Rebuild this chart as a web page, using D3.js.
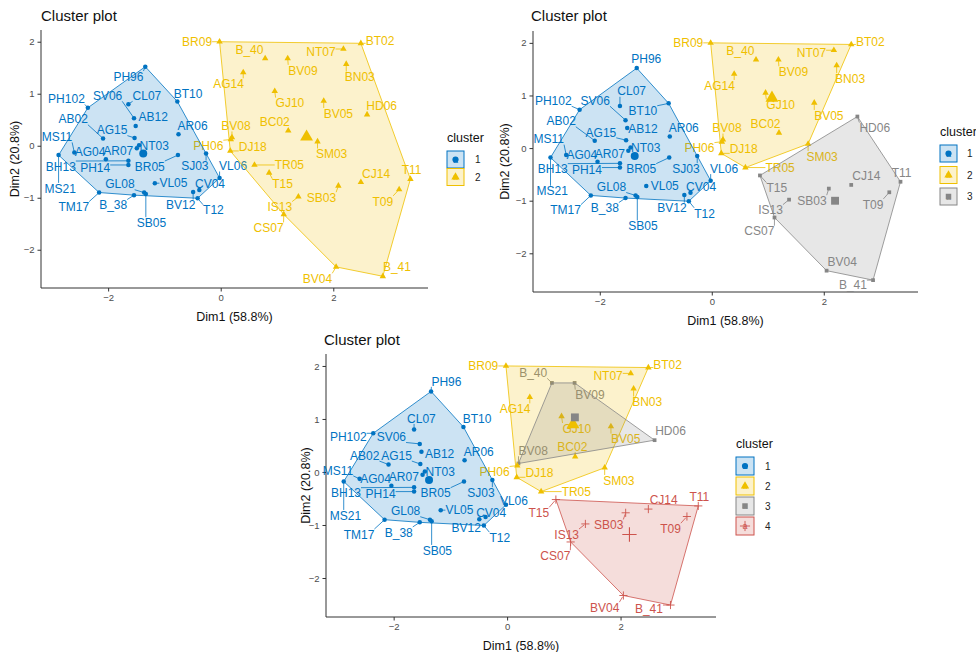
<!DOCTYPE html>
<html><head><meta charset="utf-8">
<script src="https://cdn.jsdelivr.net/npm/d3@7"></script>
<style>body{margin:0;background:#fff;} svg{display:block;font-family:"Liberation Sans",Arial,sans-serif;}</style>
</head><body><svg id="c" width="976" height="652"></svg>
<script>
// ---- data ----
const names = ["PH96","PH102","CL07","SV06","AB12","AB02","AG15","NT03","AR07","MS11","MS21","BH13","AG04","PH14","BR05","SJ03","VL06","AR06","BT10","VL05","GL08","SB05","B_38","TM17","T12","BV12","CV04",
"BR09","B_40","BV09","NT07","BT02","AG14","BN03","GJ10","BV05","HD06","BC02","SM03","BV08","PH06","DJ18","TR05","T15","IS13","CS07","SB03","CJ14","T09","T11","BV04","B_41"];
const dim1 = [-1.34,-2.36,-1.64,-1.54,-1.51,-2.09,-1.53,-1.45,-1.49,-2.60,-2.88,-1.64,-2.04,-1.64,-0.76,-0.26,-0.02,-0.75,-0.77,-1.17,-1.36,-1.33,-1.54,-2.16,-0.41,-0.49,-0.38,
-0.02,0.79,1.19,2.18,2.49,0.40,2.23,0.96,1.83,2.60,1.20,1.72,0.20,0.18,0.17,0.60,0.86,1.38,1.12,2.09,2.49,3.17,3.37,2.05,2.88];
const dim2 = [1.52,0.73,0.80,0.53,0.38,0.14,0.15,0.01,-0.05,-0.13,-0.18,-0.29,-0.26,-0.37,-0.18,-0.15,-0.62,0.22,0.85,-0.72,-0.90,-0.93,-0.95,-0.90,-1.01,-0.89,-0.85,
2.00,1.68,1.68,1.86,1.97,1.41,1.57,1.05,0.86,0.60,0.29,0.08,0.16,0.12,-0.10,-0.37,-0.52,-0.98,-1.32,-0.77,-0.70,-0.84,-0.64,-2.33,-2.51];
// cluster memberships for k = 2, 3, 4
const clusterK2 = [1,1,1,1,1,1,1,1,1,1,1,1,1,1,1,1,1,1,1,1,1,1,1,1,1,1,1, 2,2,2,2,2,2,2,2,2,2,2,2,2,2,2,2,2,2,2,2,2,2,2,2,2];
const clusterK3 = [1,1,1,1,1,1,1,1,1,1,1,1,1,1,1,1,1,1,1,1,1,1,1,1,1,1,1, 2,2,2,2,2,2,2,2,2,3,2,2,2,2,2,2,3,3,3,3,3,3,3,3,3];
const clusterK4 = [1,1,1,1,1,1,1,1,1,1,1,1,1,1,1,1,1,1,1,1,1,1,1,1,1,1,1, 2,3,3,2,2,2,2,2,2,3,2,2,3,2,2,2,4,4,4,4,4,4,4,4,4];
// repelled label positions (Dim1, Dim2)
const labelDim1 = [-1.64,-2.74,-1.31,-2.01,-1.20,-2.62,-1.93,-1.18,-1.82,-2.91,-2.85,-2.84,-2.32,-2.23,-1.26,-0.46,0.22,-0.50,-0.58,-0.84,-1.79,-1.23,-1.91,-2.61,-0.13,-0.71,-0.19,
-0.42,0.51,1.46,1.78,2.83,0.14,2.47,1.23,2.09,2.86,0.96,1.97,0.27,-0.22,0.57,1.22,1.10,1.05,0.85,1.79,2.76,2.88,3.39,1.72,3.13];
const labelDim2 = [1.33,0.90,0.96,0.96,0.55,0.51,0.30,0.00,-0.10,0.17,-0.82,-0.40,-0.12,-0.42,-0.40,-0.39,-0.39,0.38,1.00,-0.72,-0.74,-1.48,-1.14,-1.18,-1.24,-1.14,-0.74,
2.00,1.84,1.45,1.81,2.02,1.19,1.32,0.82,0.62,0.76,0.46,-0.16,0.38,0.00,-0.02,-0.37,-0.74,-1.18,-1.58,-1.00,-0.53,-1.07,-0.47,-2.56,-2.33];
// per-plot label adjustments [name, Dim1, Dim2]
const labelFixK3 = [["PH96",-1.17,1.70],["CL07",-1.43,1.08],["BT10",-1.23,0.70],["PH102",-2.83,0.90],["SV06",-2.08,0.90],
["AB12",-1.23,0.36],["AG15",-1.98,0.30],["AB02",-2.69,0.51],["HD06",2.91,0.38],["BV04",2.33,-2.16],["B_41",2.52,-2.60],["T15",1.16,-0.76]];
const labelFixK4 = [["PH96",-1.07,1.71],["CL07",-1.51,1.01],["BT10",-0.53,1.01],["PH102",-2.80,0.66],["SV06",-2.04,0.66],
["AB02",-2.51,0.31],["AG15",-1.95,0.31],["AB12",-1.19,0.34],["MS11",-2.98,0.03],["VL06",0.12,-0.54],["BV12",-0.72,-1.06],
["CV04",-0.28,-0.77],["B_40",0.46,1.87],["BV08",0.46,0.40],["T15",0.56,-0.77],["B_41",2.50,-2.59],["HD06",2.88,0.78],["BC02",1.15,0.48]];
const xTicks = [-2,0,2];
const yTicks = [-2,-1,0,1,2];
const clusterNames = ["1","2","3","4"];
const palette = ["#0073C2","#EFC000","#868686","#CD534C"];
const shapes = ["circle","triangle","square","plus"];

// ---- drawing ----
const svg = d3.select("#c");
const pad = e => { const w = e[1]-e[0]; return [e[0]-0.05*w, e[1]+0.05*w]; };
const xDom = pad(d3.extent(dim1)), yDom = pad(d3.extent(dim2));

function symPath(type, size){
  if(type==="plus"){ const r=Math.sqrt(size)*0.8; return `M${-r},0H${r}M0,${-r}V${r}`; }
  const t={circle:d3.symbolCircle,triangle:d3.symbolTriangle,square:d3.symbolSquare}[type];
  return d3.symbol().type(t).size(size)();
}
function drawSym(g, type, color, size, x, y){
  const p = g.append("path").attr("d", symPath(type,size)).attr("transform",`translate(${x},${y})`);
  if(type==="plus") p.attr("fill","none").attr("stroke",color).attr("stroke-width",0.9);
  else p.attr("fill",color);
  return p;
}
const ptSize = {circle:16, triangle:18, square:14, plus:26};
const cenSize = {circle:50, triangle:72, square:62, plus:80};

const panels = [
  {cl: clusterK2, fix: [], box:{l:41,r:428,t:30,b:288}, titleX:41, titleY:21, ytx:15,
   leg:{x:447,y:138,step:17.5,size:17,lx:475}},
  {cl: clusterK3, fix: labelFixK3, box:{l:533,r:918,t:31,b:292}, titleX:531, titleY:21, ytx:505,
   leg:{x:940,y:132,step:21.5,size:17,lx:967}},
  {cl: clusterK4, fix: labelFixK4, box:{l:326,r:716,t:354,b:617}, titleX:324, titleY:345, ytx:306,
   leg:{x:736,y:444,step:20,size:18,lx:765}}
];

panels.forEach(P => {
  const g = svg.append("g");
  const x = d3.scaleLinear().domain(xDom).range([P.box.l, P.box.r]);
  const y = d3.scaleLinear().domain(yDom).range([P.box.b, P.box.t]);
  const nCl = d3.max(P.cl);
  // axes
  const ax = g.append("g").attr("transform",`translate(0,${P.box.b})`)
    .call(d3.axisBottom(x).tickValues(xTicks).tickSize(3.5).tickPadding(3).tickFormat(d3.format("d")));
  const ay = g.append("g").attr("transform",`translate(${P.box.l},0)`)
    .call(d3.axisLeft(y).tickValues(yTicks).tickSize(3.5).tickPadding(3).tickFormat(d3.format("d")));
  [ax,ay].forEach(a=>{
    a.select(".domain").attr("stroke","#333").attr("stroke-width",1).attr("d", a===ax ? `M${P.box.l},0H${P.box.r}` : `M0,${P.box.t}V${P.box.b}`);
    a.selectAll(".tick line").attr("stroke","#333");
    a.selectAll(".tick text").attr("fill","#4D4D4D").style("font-size","9.5px").style("font-family","'Liberation Sans',Arial,sans-serif");
  });
  // points
  const pts = g.append("g");
  names.forEach((n,i)=>{
    const k = P.cl[i]-1;
    drawSym(pts, shapes[k], palette[k], ptSize[shapes[k]], x(dim1[i]), y(dim2[i]));
  });
  // labels
  const segG = g.append("g"), labG = g.append("g");
  const fixMap = new Map(P.fix.map(f=>[f[0],[f[1],f[2]]]));
  names.forEach((n,i)=>{
    const k = P.cl[i]-1;
    const lp = fixMap.get(n) || [labelDim1[i], labelDim2[i]];
    const lx = x(lp[0]), ly = y(lp[1]);
    const t = labG.append("text").attr("x",lx).attr("y",ly).attr("dy","0.35em")
      .attr("text-anchor","middle").attr("fill",palette[k]).style("font-size","12px").text(n);
    const w = t.node().getComputedTextLength(), h = 11;
    const px = x(dim1[i]), py = y(dim2[i]);
    const cx = Math.max(lx-w/2, Math.min(lx+w/2, px)), cy = Math.max(ly-h/2, Math.min(ly+h/2, py));
    const d = Math.hypot(px-cx, py-cy);
    if(d > 4.5){
      const f = (d-1.5)/d;
      segG.append("line").attr("x1",cx).attr("y1",cy).attr("x2",cx+(px-cx)*f).attr("y2",cy+(py-cy)*f)
        .attr("stroke",palette[k]).attr("stroke-width",0.8);
    }
  });
  // hulls and centroids
  const hullG = g.append("g"), cenG = g.append("g");
  for(let c=1;c<=nCl;c++){
    const idx = d3.range(names.length).filter(i=>P.cl[i]===c);
    const hp = d3.polygonHull(idx.map(i=>[x(dim1[i]), y(dim2[i])]));
    hullG.append("path").attr("d","M"+hp.join("L")+"Z")
      .attr("fill",palette[c-1]).attr("fill-opacity",0.2).attr("stroke",palette[c-1]).attr("stroke-width",0.8);
    const mx = d3.mean(idx,i=>dim1[i]), my = d3.mean(idx,i=>dim2[i]);
    const s = shapes[c-1];
    drawSym(cenG, s, palette[c-1], cenSize[s], x(mx), y(my))
      .attr("stroke-width", s==="plus"?1.1:null);
  }
  // title and axis titles
  g.append("text").attr("x",P.titleX).attr("y",P.titleY).attr("fill","#111").style("font-size","15px").text("Cluster plot");
  g.append("text").attr("x",(P.box.l+P.box.r)/2).attr("y",P.box.b+33).attr("text-anchor","middle")
    .attr("fill","#111").style("font-size","12.5px").text("Dim1 (58.8%)");
  g.append("text").attr("transform",`translate(${P.ytx},${(P.box.t+P.box.b)/2}) rotate(-90)`).attr("dy","0.35em")
    .attr("text-anchor","middle").attr("fill","#111").style("font-size","12.5px").text("Dim2 (20.8%)");
  // legend
  const L = P.leg, lg = g.append("g");
  lg.append("text").attr("x",L.x).attr("y",L.y).attr("dy","0.35em").attr("fill","#111").style("font-size","12.5px").text("cluster");
  for(let c=0;c<nCl;c++){
    const ky = L.y + 13 + c*L.step;
    lg.append("rect").attr("x",L.x).attr("y",ky).attr("width",L.size).attr("height",L.size)
      .attr("fill",palette[c]).attr("fill-opacity",0.2).attr("stroke",palette[c]).attr("stroke-width",1);
    lg.append("text").attr("x",L.x+L.size/2).attr("y",ky+L.size/2+3).attr("text-anchor","middle")
      .attr("fill",palette[c]).style("font-size","9px").text("a");
    drawSym(lg, shapes[c], palette[c], shapes[c]==="plus"?40:30, L.x+L.size/2, ky+L.size/2);
    lg.append("text").attr("x",L.lx).attr("y",ky+L.size/2).attr("dy","0.35em").attr("fill","#222")
      .style("font-size","10px").text(clusterNames[c]);
  }
});
</script></body></html>
